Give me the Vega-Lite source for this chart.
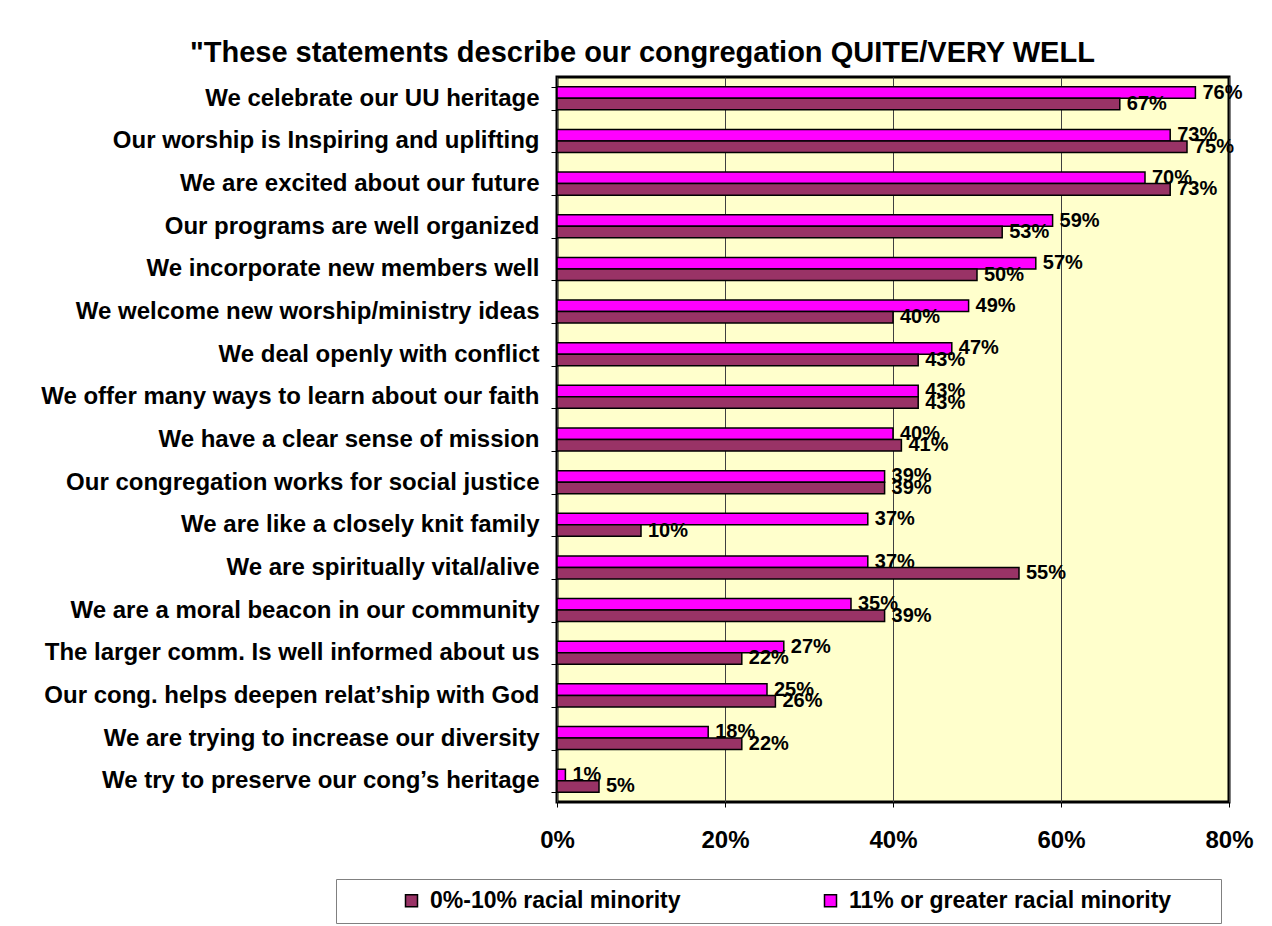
{
  "$schema": "https://vega.github.io/schema/vega-lite/v6.json",
  "width": 672,
  "height": 725,
  "autosize": {"type": "none"},
  "padding": {"left": 557, "top": 77, "right": 43, "bottom": 124},
  "background": "white",
  "title": {
    "text": "\"These statements describe our congregation QUITE/VERY WELL",
    "anchor": "start",
    "frame": "group",
    "dx": -367,
    "offset": -3,
    "fontSize": 29,
    "font": "Liberation Sans",
    "fontWeight": "bold",
    "color": "black"
  },
  "data": {
    "values": [
      {"statement": "We celebrate our UU heritage", "group": "11% or greater racial minority", "pct": 0.76},
      {"statement": "We celebrate our UU heritage", "group": "0%-10% racial minority", "pct": 0.67},
      {"statement": "Our worship is Inspiring and uplifting ", "group": "11% or greater racial minority", "pct": 0.73},
      {"statement": "Our worship is Inspiring and uplifting ", "group": "0%-10% racial minority", "pct": 0.75},
      {"statement": "We are excited about our future", "group": "11% or greater racial minority", "pct": 0.70},
      {"statement": "We are excited about our future", "group": "0%-10% racial minority", "pct": 0.73},
      {"statement": "Our programs are well organized", "group": "11% or greater racial minority", "pct": 0.59},
      {"statement": "Our programs are well organized", "group": "0%-10% racial minority", "pct": 0.53},
      {"statement": "We incorporate new members well", "group": "11% or greater racial minority", "pct": 0.57},
      {"statement": "We incorporate new members well", "group": "0%-10% racial minority", "pct": 0.50},
      {"statement": "We welcome new worship/ministry ideas", "group": "11% or greater racial minority", "pct": 0.49},
      {"statement": "We welcome new worship/ministry ideas", "group": "0%-10% racial minority", "pct": 0.40},
      {"statement": "We deal openly with conflict", "group": "11% or greater racial minority", "pct": 0.47},
      {"statement": "We deal openly with conflict", "group": "0%-10% racial minority", "pct": 0.43},
      {"statement": "We offer many ways to learn about our faith", "group": "11% or greater racial minority", "pct": 0.43},
      {"statement": "We offer many ways to learn about our faith", "group": "0%-10% racial minority", "pct": 0.43},
      {"statement": "We have a clear sense of mission", "group": "11% or greater racial minority", "pct": 0.40},
      {"statement": "We have a clear sense of mission", "group": "0%-10% racial minority", "pct": 0.41},
      {"statement": "Our congregation works for social justice", "group": "11% or greater racial minority", "pct": 0.39},
      {"statement": "Our congregation works for social justice", "group": "0%-10% racial minority", "pct": 0.39},
      {"statement": "We are like a closely knit family", "group": "11% or greater racial minority", "pct": 0.37},
      {"statement": "We are like a closely knit family", "group": "0%-10% racial minority", "pct": 0.10},
      {"statement": "We are spiritually vital/alive", "group": "11% or greater racial minority", "pct": 0.37},
      {"statement": "We are spiritually vital/alive", "group": "0%-10% racial minority", "pct": 0.55},
      {"statement": "We are a moral beacon in our community", "group": "11% or greater racial minority", "pct": 0.35},
      {"statement": "We are a moral beacon in our community", "group": "0%-10% racial minority", "pct": 0.39},
      {"statement": "The larger comm. Is well informed about us", "group": "11% or greater racial minority", "pct": 0.27},
      {"statement": "The larger comm. Is well informed about us", "group": "0%-10% racial minority", "pct": 0.22},
      {"statement": "Our cong. helps deepen relat’ship with God", "group": "11% or greater racial minority", "pct": 0.25},
      {"statement": "Our cong. helps deepen relat’ship with God", "group": "0%-10% racial minority", "pct": 0.26},
      {"statement": "We are trying to increase our diversity", "group": "11% or greater racial minority", "pct": 0.18},
      {"statement": "We are trying to increase our diversity", "group": "0%-10% racial minority", "pct": 0.22},
      {"statement": "We try to preserve our cong’s heritage", "group": "11% or greater racial minority", "pct": 0.01},
      {"statement": "We try to preserve our cong’s heritage", "group": "0%-10% racial minority", "pct": 0.05}
    ]
  },
  "encoding": {
    "y": {
      "field": "statement",
      "type": "nominal",
      "sort": null,
      "scale": {"paddingInner": 0.46, "paddingOuter": 0.23},
      "axis": {
        "title": null,
        "domain": false,
        "tickBand": "extent",
        "ticks": true,
        "tickSize": 6,
        "tickColor": "black",
        "tickWidth": 1,
        "labelPadding": 12,
        "labelFont": "Liberation Sans",
        "labelFontWeight": "bold",
        "labelFontSize": 24,
        "labelColor": "black",
        "labelLimit": 0
      }
    },
    "yOffset": {
      "field": "group",
      "type": "nominal",
      "sort": ["11% or greater racial minority", "0%-10% racial minority"]
    },
    "x": {
      "field": "pct",
      "type": "quantitative",
      "scale": {"domain": [0, 0.8], "nice": false},
      "axis": {
        "title": null,
        "domain": false,
        "values": [0, 0.2, 0.4, 0.6, 0.8],
        "format": ".0%",
        "labelFlush": false,
        "grid": true,
        "gridColor": "#404040",
        "gridWidth": 1,
        "tickSize": 5,
        "tickColor": "black",
        "labelPadding": 21,
        "labelFont": "Liberation Sans",
        "labelFontWeight": "bold",
        "labelFontSize": 24,
        "labelColor": "black"
      }
    }
  },
  "layer": [
    {
      "mark": {"type": "bar", "stroke": "black", "strokeWidth": 1.5},
      "encoding": {
        "color": {
          "field": "group",
          "type": "nominal",
          "scale": {
            "domain": ["0%-10% racial minority", "11% or greater racial minority"],
            "range": ["#993366", "#FF00FF"]
          },
          "legend": {
            "title": " ",
            "titleOrient": "right",
            "titlePadding": 40,
            "titleFontSize": 10,
            "orient": "none",
            "legendX": -221,
            "legendY": 802,
            "direction": "horizontal",
            "columns": 2,
            "symbolType": "square",
            "symbolSize": 144,
            "symbolStrokeColor": "black",
            "symbolStrokeWidth": 1.5,
            "symbolOpacity": 1,
            "labelFont": "Liberation Sans",
            "labelFontWeight": "bold",
            "labelFontSize": 23,
            "labelColor": "black",
            "labelLimit": 0,
            "labelOffset": 7,
            "padding": 10,
            "symbolOffset": 54,
            "columnPadding": 84,
            "strokeColor": "#808080",
            "fillColor": "white"
          }
        }
      }
    },
    {
      "mark": {
        "type": "text",
        "align": "left",
        "baseline": "middle",
        "dx": 7,
        "font": "Liberation Sans",
        "fontWeight": "bold",
        "fontSize": 20,
        "color": "black"
      },
      "encoding": {
        "text": {"field": "pct", "type": "quantitative", "format": ".0%"}
      }
    }
  ],
  "config": {
    "view": {"stroke": "black", "strokeWidth": 3, "fill": "#FFFFCC"}
  }
}
